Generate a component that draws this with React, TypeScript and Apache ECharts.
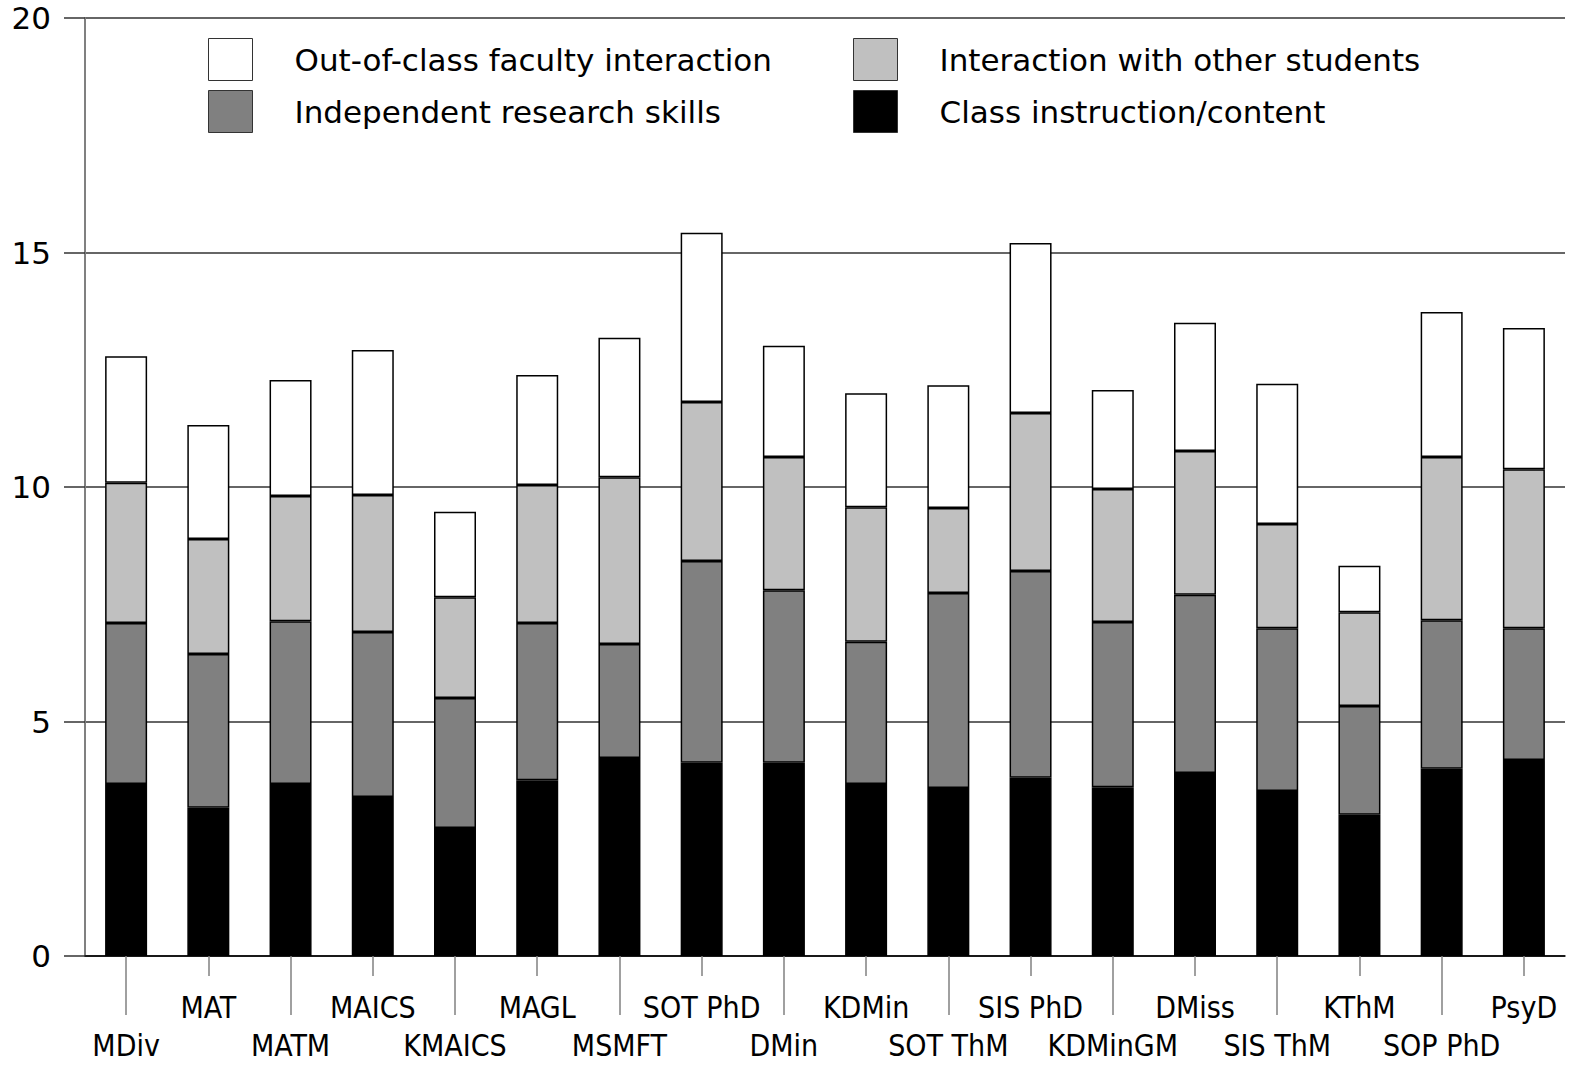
import React, { useEffect, useRef } from "react";
import * as echarts from "echarts";

const categories = [
  "MDiv", "MAT", "MATM", "MAICS", "KMAICS", "MAGL", "MSMFT", "SOT PhD", "DMin",
  "KDMin", "SOT ThM", "SIS PhD", "KDMinGM", "DMiss", "SIS ThM", "KThM", "SOP PhD", "PsyD",
];

const classInstruction = [3.67, 3.16, 3.67, 3.39, 2.73, 3.75, 4.22, 4.12, 4.12, 3.67, 3.58, 3.8, 3.6, 3.9, 3.52, 3.01, 3.99, 4.18];
const researchSkills = [3.43, 3.28, 3.47, 3.52, 2.77, 3.35, 2.43, 4.3, 3.68, 3.03, 4.16, 4.41, 3.52, 3.8, 3.47, 2.32, 3.17, 2.81];
const otherStudents = [2.99, 2.45, 2.67, 2.92, 2.15, 2.94, 3.56, 3.39, 2.84, 2.87, 1.81, 3.37, 2.84, 3.07, 2.22, 2.0, 3.48, 3.39];
const facultyInteraction = [2.7, 2.43, 2.47, 3.09, 1.82, 2.35, 2.97, 3.61, 2.37, 2.43, 2.62, 3.62, 2.11, 2.73, 2.99, 0.99, 3.09, 3.01];

const yTicks = [0, 5, 10, 15, 20];

const N_CLASS = "Class instruction/content";
const N_RESEARCH = "Independent research skills";
const N_STUDENTS = "Interaction with other students";
const N_FACULTY = "Out-of-class faculty interaction";

const FONT_X = "'DejaVu Sans Condensed', 'Liberation Sans', Arial, sans-serif";
const FONT_WIDE = "'DejaVu Sans', Verdana, sans-serif";

export default function App() {
  const ref = useRef<HTMLDivElement>(null);

  useEffect(() => {
    if (!ref.current) return;
    const chart = echarts.init(ref.current, undefined, { renderer: "svg" });

    const mkSeries = (name: string, data: number[], color: string) => ({
      name,
      type: "bar",
      stack: "total",
      data,
      barWidth: 42,
      xAxisIndex: 0,
      itemStyle: { color, borderColor: "#000", borderWidth: 1.5 },
    });

    const mkLegend = (name: string, left: number, top: number) => ({
      data: [name],
      left,
      top,
      padding: 0,
      itemWidth: 44,
      itemHeight: 42,
      icon: "rect",
      selectedMode: false,
      itemStyle: { borderColor: "#333", borderWidth: 1 },
      textStyle: {
        fontSize: 31,
        fontFamily: FONT_WIDE,
        color: "#000",
        padding: [10, 0, 0, 37],
      },
    });

    chart.setOption({
      animation: false,
      backgroundColor: "#fff",
      textStyle: { fontFamily: FONT_X },
      grid: { left: 85, right: 5, top: 18, bottom: 109, containLabel: false },
      legend: [
        mkLegend(N_FACULTY, 208, 38),
        mkLegend(N_RESEARCH, 208, 90),
        mkLegend(N_STUDENTS, 853, 38),
        mkLegend(N_CLASS, 853, 90),
      ],
      xAxis: [
        {
          type: "category",
          data: categories,
          position: "bottom",
          axisLine: { show: true, lineStyle: { color: "#000", width: 1.5 } },
          axisTick: {
            show: true,
            alignWithLabel: true,
            length: 59,
            interval: (i: number) => i % 2 === 0,
            lineStyle: { color: "#808080", width: 1.5 },
          },
          axisLabel: {
            interval: (i: number) => i % 2 === 0,
            margin: 74,
            fontSize: 30,
            fontFamily: FONT_X,
            color: "#000",
          },
          splitLine: { show: false },
        },
        {
          type: "category",
          data: categories,
          position: "bottom",
          axisLine: { show: false },
          axisTick: {
            show: true,
            alignWithLabel: true,
            length: 20,
            interval: (i: number) => i % 2 === 1,
            lineStyle: { color: "#808080", width: 1.5 },
          },
          axisLabel: {
            interval: (i: number) => i % 2 === 1,
            margin: 36,
            fontSize: 30,
            fontFamily: FONT_X,
            color: "#000",
          },
          splitLine: { show: false },
        },
      ],
      yAxis: {
        type: "value",
        min: yTicks[0],
        max: yTicks[yTicks.length - 1],
        interval: 5,
        axisLine: { show: true, lineStyle: { color: "#808080", width: 2 } },
        axisTick: { show: true, length: 21, lineStyle: { color: "#333", width: 1.5 } },
        axisLabel: { fontSize: 31, fontFamily: FONT_WIDE, color: "#000", margin: 34 },
        splitLine: { show: true, lineStyle: { color: "#333", width: 1.5 } },
      },
      series: [
        mkSeries(N_CLASS, classInstruction, "#000000"),
        mkSeries(N_RESEARCH, researchSkills, "#808080"),
        mkSeries(N_STUDENTS, otherStudents, "#c0c0c0"),
        mkSeries(N_FACULTY, facultyInteraction, "#ffffff"),
      ],
    });

    return () => chart.dispose();
  }, []);

  return (
    <div
      ref={ref}
      style={{ position: "absolute", left: 0, top: 0, width: 1570, height: 1065 }}
    />
  );
}
